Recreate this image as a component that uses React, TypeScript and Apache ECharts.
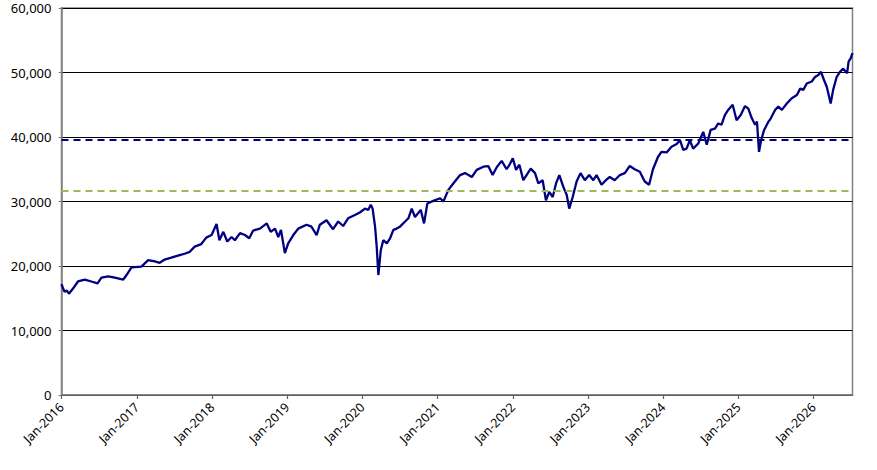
import React, { useEffect, useRef } from "react";
import * as echarts from "echarts";

const dates: string[] = [
  "2016-01-01","2016-01-08","2016-01-16","2016-01-27","2016-02-06","2016-02-26","2016-03-21","2016-04-23","2016-05-25","2016-06-24",
  "2016-07-13","2016-08-15","2016-09-16","2016-10-27","2016-11-12","2016-12-06","2017-01-23","2017-02-25","2017-03-29","2017-04-22",
  "2017-05-16","2017-06-17","2017-07-28","2017-08-21","2017-09-15","2017-10-09","2017-11-10","2017-12-04","2017-12-30","2018-01-23",
  "2018-02-06","2018-02-25","2018-03-16","2018-04-06","2018-04-22","2018-05-17","2018-06-10","2018-07-01","2018-07-20","2018-08-22",
  "2018-09-24","2018-10-13","2018-11-03","2018-11-19","2018-12-02","2018-12-21","2019-01-06","2019-01-31","2019-02-24","2019-04-05",
  "2019-04-29","2019-05-24","2019-06-09","2019-07-11","2019-08-12","2019-09-06","2019-09-30","2019-10-24","2019-11-26","2019-12-20",
  "2020-01-14","2020-01-30","2020-02-11","2020-02-20","2020-03-03","2020-03-11","2020-03-19","2020-03-31","2020-04-12","2020-04-29",
  "2020-05-15","2020-05-31","2020-06-16","2020-07-02","2020-07-27","2020-08-12","2020-08-28","2020-09-13","2020-10-11","2020-10-27",
  "2020-11-12","2020-12-11","2021-01-13","2021-01-29","2021-02-22","2021-03-18","2021-04-20","2021-05-14","2021-06-16","2021-07-10",
  "2021-08-11","2021-09-04","2021-09-25","2021-10-15","2021-11-08","2021-12-02","2021-12-18","2022-01-01","2022-01-17","2022-02-02",
  "2022-02-21","2022-03-09","2022-03-29","2022-04-19","2022-05-05","2022-05-26","2022-06-11","2022-06-27","2022-07-14","2022-07-30",
  "2022-08-15","2022-09-03","2022-09-20","2022-10-02","2022-10-19","2022-11-07","2022-11-26","2022-12-17","2023-01-07","2023-01-27",
  "2023-02-12","2023-03-08","2023-03-29","2023-04-17","2023-05-11","2023-06-05","2023-06-29","2023-07-23","2023-08-16","2023-09-10",
  "2023-10-04","2023-10-25","2023-11-13","2023-12-07","2023-12-24","2024-01-18","2024-02-11","2024-03-07","2024-03-23","2024-04-08",
  "2024-04-24","2024-05-10","2024-05-26","2024-06-20","2024-07-14","2024-07-31","2024-08-19","2024-09-09","2024-09-25","2024-10-11",
  "2024-10-27","2024-11-12","2024-12-04","2024-12-23","2025-01-12","2025-02-02","2025-02-18","2025-03-07","2025-03-23","2025-04-01",
  "2025-04-11","2025-04-21","2025-05-06","2025-05-27","2025-06-04","2025-06-28","2025-07-14","2025-07-31","2025-08-24","2025-09-17",
  "2025-10-12","2025-10-28","2025-11-12","2025-11-29","2025-12-23","2026-01-08","2026-01-24","2026-02-06","2026-02-21","2026-03-06",
  "2026-03-25","2026-04-06","2026-04-23","2026-05-09","2026-05-25","2026-06-13","2026-06-20","2026-06-30","2026-07-09",
];

const values: number[] = [
  17200,16600,16000,16200,15700,16500,17600,17900,17600,17300,
  18200,18400,18200,17900,18600,19800,19900,20900,20700,20500,
  21000,21300,21700,21900,22200,23000,23400,24400,24800,26500,
  24000,25300,23800,24500,24000,25100,24800,24300,25500,25800,
  26600,25300,25800,24500,25600,22000,23500,24800,25800,26400,
  26100,24800,26400,27100,25700,26900,26200,27400,27900,28300,
  28900,28700,29500,28900,26100,23000,18600,22500,24000,23500,
  24300,25600,25800,26100,26900,27400,28900,27600,28700,26600,
  29700,30100,30500,30000,31800,32800,34100,34400,33800,34900,
  35400,35500,34100,35300,36300,35000,35800,36700,34900,35700,
  33300,34100,35100,34400,32800,33300,30200,31500,30700,32800,
  34100,32300,31000,28900,30700,33100,34400,33300,34100,33300,
  34100,32600,33300,33800,33300,34100,34400,35500,35000,34600,
  33100,32600,35000,36900,37700,37600,38500,38900,39500,38000,
  38200,39500,38200,39000,40800,38800,41100,41300,42100,41900,
  43400,44200,45000,42600,43400,44800,44400,42900,41900,42400,
  37700,39500,41100,42400,42700,44200,44700,44200,45200,46000,
  46500,47500,47300,48300,48600,49300,49600,50100,48800,47800,
  45200,47300,49300,50100,50600,49900,51700,52200,53000,
];

const blueLevel = 39600;
const greenLevel = 31700;
const axisStart = "2016-01-01";
const axisEnd = "2026-07-09";

export default function App() {
  const ref = useRef<HTMLDivElement>(null);
  useEffect(() => {
    if (!ref.current) return;
    const chart = echarts.init(ref.current, null, { renderer: "svg" });
    chart.setOption({
      animation: false,
      grid: {
        left: 61.5,
        top: 8,
        right: 24.5,
        bottom: 75,
        show: true,
        borderColor: "#808080",
        borderWidth: 1.5,
        backgroundColor: "#ffffff",
      },
      xAxis: {
        type: "time",
        min: axisStart,
        max: axisEnd,
        splitNumber: 10,
        axisLine: { show: true, lineStyle: { color: "#808080", width: 1.5 } },
        axisTick: { show: true, length: 4, lineStyle: { color: "#606060", width: 1.2 } },
        splitLine: { show: false },
        axisLabel: {
          rotate: 45,
          color: "#000000",
          fontFamily: "Noto Sans",
          fontSize: 12.5,
          margin: 10,
          hideOverlap: false,
          formatter: (v: number) => {
            const d = new Date(v);
            return d.getMonth() === 0 && d.getDate() === 1 ? `Jan-${d.getFullYear()}` : "";
          },
        },
      },
      yAxis: {
        type: "value",
        min: 0,
        max: 60000,
        interval: 10000,
        axisLine: { show: true, lineStyle: { color: "#808080", width: 1.5 } },
        axisTick: { show: true, length: 3, lineStyle: { color: "#808080" } },
        splitLine: { show: true, lineStyle: { color: "#000000", width: 1 } },
        axisLabel: {
          color: "#000000",
          fontFamily: "Noto Sans",
          fontSize: 13,
          margin: 10,
          formatter: (v: number) => v.toLocaleString("en-US"),
        },
      },
      series: [
        {
          type: "line",
          data: dates.map((d, i) => [d, values[i]]),
          showSymbol: false,
          symbol: "none",
          lineStyle: { color: "#000080", width: 2.3 },
          z: 3,
          markLine: {
            silent: true,
            symbol: "none",
            label: { show: false },
            data: [
              { yAxis: blueLevel, lineStyle: { color: "#000080", type: [7, 5], width: 2 } },
              { yAxis: greenLevel, lineStyle: { color: "#9BBB59", type: [7, 5], width: 2 } },
            ],
          },
        },
      ],
    });
    return () => chart.dispose();
  }, []);
  return (
    <div
      ref={ref}
      style={{ position: "fixed", left: 0, top: 0, width: 877, height: 470, background: "#fff" }}
    />
  );
}
